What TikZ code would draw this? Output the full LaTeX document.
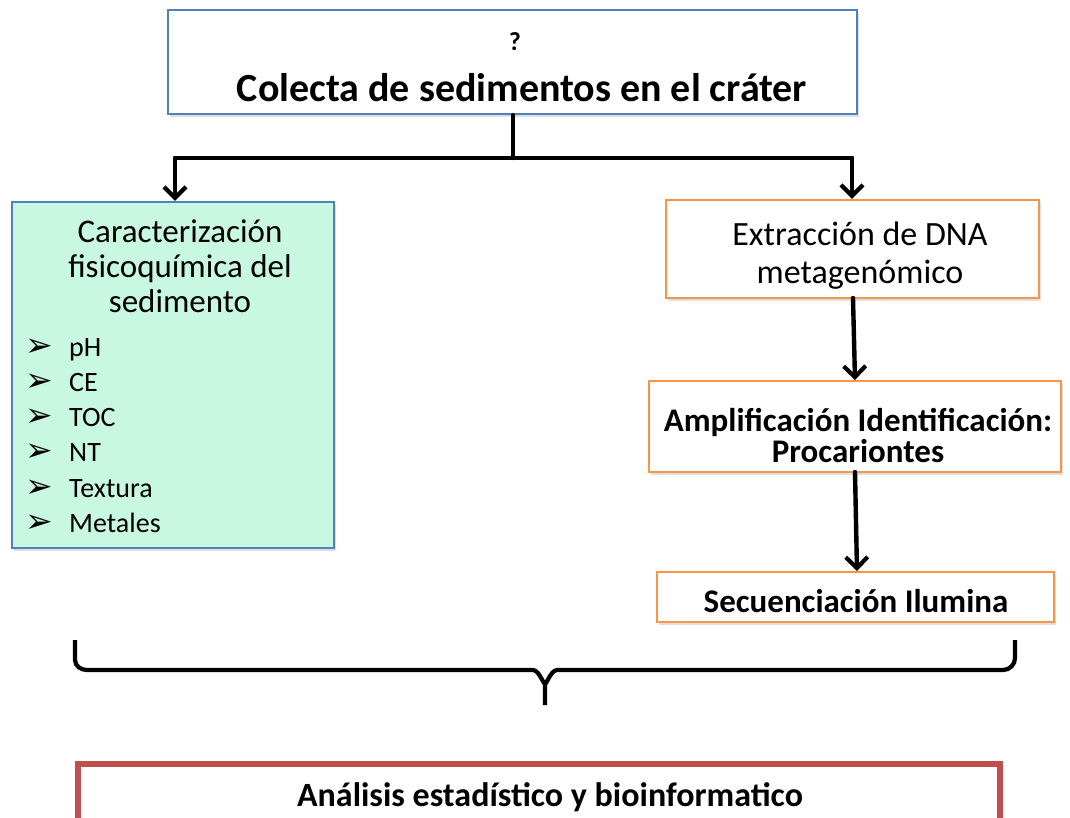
\documentclass[tikz,border=0pt]{standalone}
\usepackage{fontspec}
\setmainfont{Carlito}
\newfontfamily\symfont{DejaVu Sans}
\usetikzlibrary{arrows.meta,shadows}
\definecolor{bblue}{HTML}{4F81BD}
\definecolor{bgreen}{HTML}{C8F8E1}
\definecolor{borange}{HTML}{F79646}
\definecolor{bred}{HTML}{C0504D}
\tikzset{
  box/.style={draw, line width=2.2pt, inner sep=0pt, drop shadow={shadow xshift=2pt, shadow yshift=-3pt, opacity=0.25}},
  bluebox/.style={box, draw=bblue, fill=white},
  greenbox/.style={box, draw=bblue, fill=bgreen},
  orangebox/.style={box, draw=borange, fill=white},
  redbox/.style={draw=bred, line width=6pt, fill=white},
  conn/.style={line width=4.4pt, line cap=round},
  arr/.style={conn, -{Straight Barb[length=11pt,width=22pt,line width=4.2pt]}},
  lbl/.style={inner sep=0pt, anchor=center},
  item/.style={inner sep=0pt, anchor=base west, font=\fontsize{28}{32}\selectfont},
  bul/.style={inner sep=0pt, anchor=base west, font=\symfont\fontsize{33}{36}\selectfont},
}
\begin{document}
\begin{tikzpicture}[x=1pt,y=-1pt]
\useasboundingbox (0,0) rectangle (1070,817);
\clip (0,0) rectangle (1070,817);
% boxes
\node[bluebox, minimum width=689pt, minimum height=104pt] (top) at (512.5,62) {};
\node[lbl, font=\bfseries\fontsize{26}{30}\selectfont] (topq) at (515,42) {?};
\node[lbl, font=\bfseries\fontsize{40}{44}\selectfont] (toptxt) at (522,88) {Colecta de sedimentos en el cráter};

\node[greenbox, minimum width=322pt, minimum height=346pt] (left) at (173,375) {};
\node[lbl, font=\fontsize{33}{35}\selectfont, align=center] (lefttitle) at (180,266) {Caracterización\\fisicoquímica del\\sedimento};
\foreach \t/\yy/\n in {pH/356/a, CE/391/b, TOC/426/c, NT/461/d, Textura/497/e, Metales/532/f}{
  \node[bul] (b\n) at (25,\yy) {➢};
  \node[item] (i\n) at (69,\yy) {\t};
}

\node[orangebox, minimum width=373pt, minimum height=98pt] (r1) at (852.5,249) {};
\node[lbl, font=\fontsize{34}{38}\selectfont, align=center] (r1t) at (860,256) {Extracción de DNA\\metagenómico};

\node[orangebox, minimum width=412pt, minimum height=91pt] (r2) at (855,426.5) {};
\node[lbl, font=\bfseries\fontsize{33}{31}\selectfont, align=center] (r2t) at (858,436) {Amplificación Identificación:\\Procariontes};

\node[orangebox, minimum width=397pt, minimum height=50pt] (r3) at (855.5,597) {};
\node[lbl, font=\bfseries\fontsize{33}{36}\selectfont] (r3t) at (856,601) {Secuenciación Ilumina};

\draw[redbox] (78,764) rectangle (1000,840);
\node[lbl, font=\bfseries\fontsize{34}{38}\selectfont] (bottxt) at (550,797) {Análisis estadístico y bioinformatico};

% connectors
\coordinate (j) at (513,158);
\coordinate (jl) at (175,158);
\coordinate (jr) at (852,158);
\draw[conn] (top.south -| j) -- (j);
\draw[conn] (jl) -- (jr);
\draw[arr] (jl) -- (jl |- left.north);
\draw[arr] (jr) -- (jr |- r1.north);
\draw[arr] (853,298) -- (855,380);
\draw[arr] (855,472) -- (857,571);

% brace
\draw[line width=4.2pt]
  (75,640) -- (75,660) to[out=-90,in=180] (87,670) -- (533,670)
  to[out=0,in=-90] (545,682) -- (545,705);
\draw[line width=4.2pt]
  (545,682) to[out=-90,in=180] (557,670) -- (1003,670)
  to[out=0,in=-90] (1015,658) -- (1015,640);
\end{tikzpicture}
\end{document}
